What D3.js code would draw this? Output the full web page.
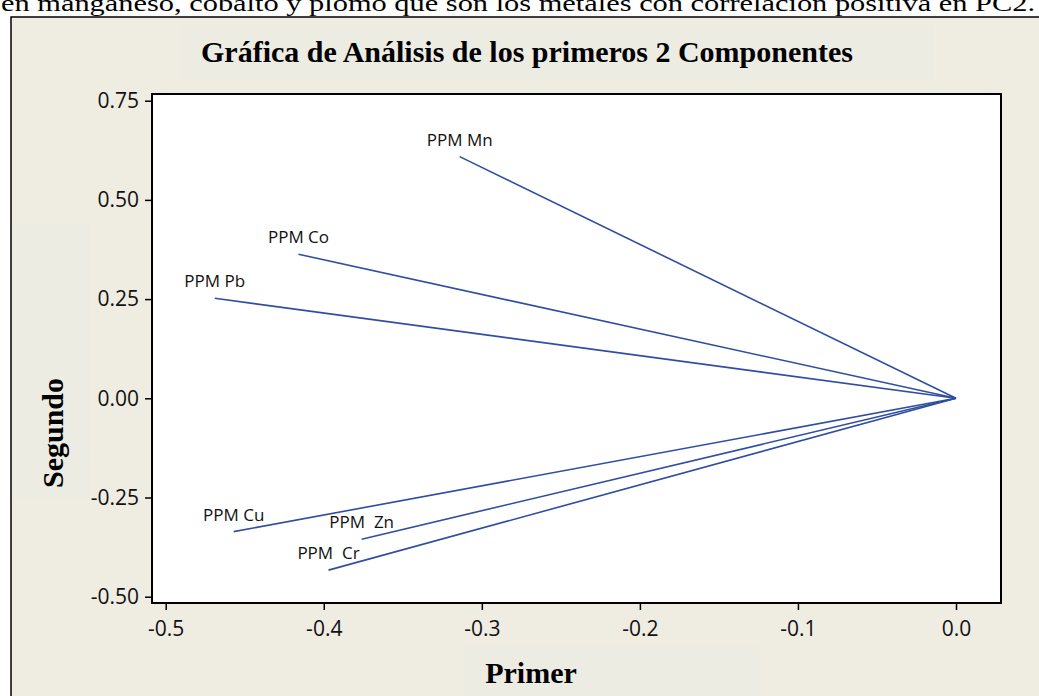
<!DOCTYPE html>
<html>
<head>
<meta charset="utf-8">
<script src="https://cdn.jsdelivr.net/npm/d3@7"></script>
<style>
  html, body { margin: 0; padding: 0; background: #ffffff; }
  svg { display: block; }
</style>
</head>
<body>
<svg id="chart" width="1039" height="696"></svg>
<script>
// ---- data ----
const variables = ["PPM Mn", "PPM Co", "PPM Pb", "PPM Cu", "PPM  Zn", "PPM  Cr"];
const pc1 = [-0.314, -0.416, -0.469, -0.457, -0.376, -0.397];
const pc2 = [0.609, 0.363, 0.252, -0.336, -0.355, -0.433];
const xTicks = [-0.5, -0.4, -0.3, -0.2, -0.1, 0.0];
const yTicks = [-0.50, -0.25, 0.00, 0.25, 0.50, 0.75];
const title = "Gráfica de Análisis de los primeros 2 Componentes";
const xTitle = "Primer";
const yTitle = "Segundo";
const topLine = "en manganeso, cobalto y plomo que son los metales con correlación positiva en PC2.";

const svg = d3.select("#chart");
const W = 1039, H = 696;
const bg = "#efece2", boxBg = "#ecece3";
const lineColor = "#2f4ea2";
const plot = { left: 152, right: 1001, top: 94, bottom: 603 };

// text line above the figure (clipped at the top, as in the reference)
svg.append("text")
  .attr("x", 1).attr("y", 11)
  .attr("font-family", "'Liberation Serif', 'Times New Roman', serif")
  .attr("font-size", 24)
  .attr("textLength", 1034).attr("lengthAdjust", "spacingAndGlyphs")
  .attr("fill", "#000")
  .text(topLine);

// outer figure box
svg.append("rect")
  .attr("x", 11).attr("y", 17).attr("width", W + 20).attr("height", H + 20)
  .attr("fill", bg).attr("stroke", "#000").attr("stroke-width", 1.5);

// subtle boxes behind titles
svg.append("rect").attr("x", 179).attr("y", 24).attr("width", 755).attr("height", 56).attr("fill", boxBg);
svg.append("rect").attr("x", 13).attr("y", 225).attr("width", 77).attr("height", 275).attr("fill", boxBg);
svg.append("rect").attr("x", 465).attr("y", 645).attr("width", 295).attr("height", 60).attr("fill", boxBg);

// scales
const x = d3.scaleLinear().domain([-0.5, 0]).range([165.7, 956]);
const y = d3.scaleLinear().domain([-0.5, 0.75]).range([596.7, 100.7]);

// plot area
svg.append("rect")
  .attr("x", plot.left).attr("y", plot.top)
  .attr("width", plot.right - plot.left).attr("height", plot.bottom - plot.top)
  .attr("fill", "#ffffff");

// loading lines
const data = variables.map((v, i) => ({ name: v, x: pc1[i], y: pc2[i] }));
svg.append("g").selectAll("line").data(data).join("line")
  .attr("x1", x(0)).attr("y1", y(0))
  .attr("x2", d => x(d.x)).attr("y2", d => y(d.y))
  .attr("stroke", lineColor).attr("stroke-width", 1.6);

svg.append("g").selectAll("text").data(data).join("text")
  .attr("x", d => x(d.x)).attr("y", d => y(d.y) - 11)
  .attr("text-anchor", "middle")
  .attr("font-family", "'Open Sans', sans-serif")
  .attr("font-size", 17)
  .attr("fill", "#111")
  .style("white-space", "pre")
  .text(d => d.name);

// frame
svg.append("rect")
  .attr("x", plot.left).attr("y", plot.top)
  .attr("width", plot.right - plot.left).attr("height", plot.bottom - plot.top)
  .attr("fill", "none").attr("stroke", "#000").attr("stroke-width", 2);

// axes (hyphen minus as in the reference)
const hyph = f => v => f(v).replace("\u2212", "-");
const xAxis = svg.append("g").attr("transform", `translate(0,${plot.bottom})`)
  .call(d3.axisBottom(x).tickValues(xTicks).tickFormat(hyph(d3.format(".1f"))).tickSize(7).tickSizeOuter(0).tickPadding(6));
const yAxis = svg.append("g").attr("transform", `translate(${plot.left},0)`)
  .call(d3.axisLeft(y).tickValues(yTicks).tickFormat(hyph(d3.format(".2f"))).tickSize(7).tickSizeOuter(0).tickPadding(6));
[xAxis, yAxis].forEach(g => {
  g.select(".domain").remove();
  g.selectAll(".tick line").attr("stroke", "#000").attr("stroke-width", 1.5);
  g.selectAll(".tick text")
    .attr("font-family", "'Open Sans', sans-serif")
    .attr("font-size", 21).attr("fill", "#111");
});
xAxis.selectAll(".tick text").attr("dy", "0.95em");

// titles
const serif = "'Liberation Serif', 'Times New Roman', serif";
svg.append("text").attr("x", 527).attr("y", 62)
  .attr("text-anchor", "middle").attr("font-family", serif)
  .attr("font-weight", "bold").attr("font-size", 30).attr("fill", "#000")
  .text(title);
svg.append("text").attr("x", 531).attr("y", 683)
  .attr("text-anchor", "middle").attr("font-family", serif)
  .attr("font-weight", "bold").attr("font-size", 30).attr("fill", "#000")
  .text(xTitle);
svg.append("text")
  .attr("transform", "translate(63,433) rotate(-90)")
  .attr("text-anchor", "middle").attr("font-family", serif)
  .attr("font-weight", "bold").attr("font-size", 30).attr("fill", "#000")
  .text(yTitle);
</script>
</body>
</html>
